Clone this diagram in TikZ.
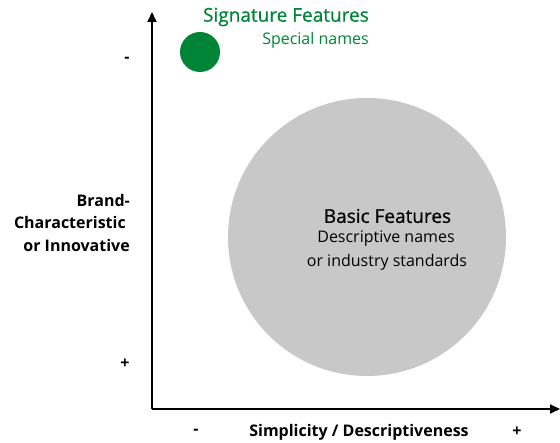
\documentclass[tikz,border=0pt]{standalone}
\usepackage{fontspec}
\setmainfont{Open Sans}
\newfontfamily\titlefont[FakeBold=0.7]{Open Sans}
\usetikzlibrary{arrows.meta}
\definecolor{sgreen}{RGB}{0,133,55}
\definecolor{bgray}{RGB}{200,200,200}
\tikzset{
  axis/.style={line width=1.8pt,-{Triangle[length=10pt,width=9pt]}},
  lbl/.style={inner sep=0pt,font=\fontsize{16}{19}\selectfont\bfseries},
  title/.style={inner sep=0pt,font=\titlefont\fontsize{19}{22}\selectfont},
  sub/.style={inner sep=0pt,font=\fontsize{16}{19}\selectfont}
}
\begin{document}
\begin{tikzpicture}[x=1pt,y=-1pt]
\useasboundingbox (0,0) rectangle (560,443);
\coordinate (o) at (152,409);
\coordinate (ytop) at (152,12);
\coordinate (xend) at (560,409);
\node[circle,fill=bgray,minimum size=278pt,inner sep=0pt] (basic) at (367,237) {};
\node[circle,fill=sgreen,minimum size=40pt,inner sep=0pt] (sig) at (200,52) {};
\draw[axis] (o) -- (ytop);
\draw[axis] (o) -- (xend);
\node[title,text=sgreen,anchor=east] (sigt) at (369,17) {Signature Features};
\node[sub,text=sgreen,anchor=east] (sigs) at (369,40) {Special names};
\node[title] (bt) at (387.5,216) {Basic Features};
\node[sub] (bs1) at (386,239) {Descriptive names};
\node[sub] (bs2) at (387,262) {or industry standards};
\node[lbl,anchor=east] (y1) at (130,201) {Brand-};
\node[lbl,anchor=east] (y2) at (126,223) {Characteristic};
\node[lbl,anchor=east] (y3) at (130,246) {or Innovative};
\node[lbl] (ym) at (127,60) {-};
\node[lbl] (yp) at (125,364) {+};
\node[lbl] (xm) at (196,432) {-};
\node[lbl] (xt) at (359,432) {Simplicity / Descriptiveness};
\node[lbl] (xp) at (517,432) {+};
\end{tikzpicture}
\end{document}
